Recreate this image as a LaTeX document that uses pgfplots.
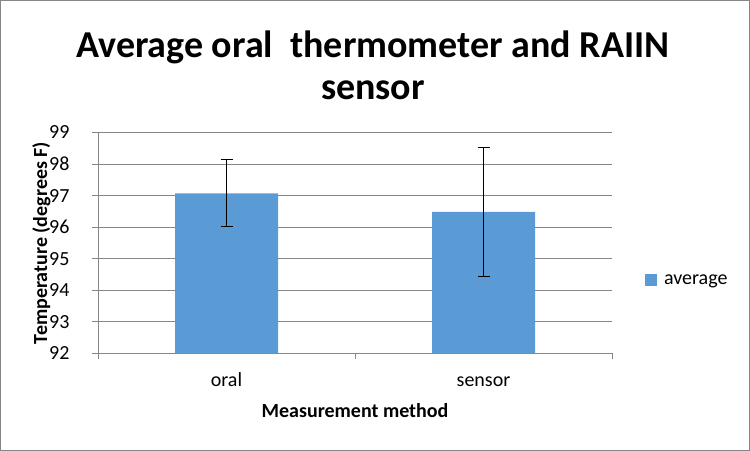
\documentclass[border=0pt]{standalone}
\usepackage{fontspec}
\setmainfont{Carlito}
\usepackage{pgfplots}
\pgfplotsset{compat=1.18}
\definecolor{barblue}{HTML}{5B9BD5}
\definecolor{gridgray}{HTML}{868686}
\begin{document}
\begin{tikzpicture}
\useasboundingbox (0bp,0bp) rectangle (750bp,451bp);
\draw[gridgray, line width=1bp] (0.5bp,0.5bp) rectangle (749.5bp,450.5bp);
\node[font=\bfseries\fontsize{38bp}{44bp}\selectfont, anchor=base, inner sep=0pt] at (373bp,393.7bp) {Average oral\ \ thermometer and RAIIN};
\node[font=\bfseries\fontsize{38bp}{44bp}\selectfont, anchor=base, inner sep=0pt] at (373bp,351.5bp) {sensor};
\begin{axis}[
  at={(98bp,97.7bp)}, anchor=south west,
  scale only axis, width=514bp, height=220.8bp,
  xmin=-0.5, xmax=1.5, ymin=92, ymax=99,
  ytick={92,93,94,95,96,97,98,99},
  xtick={0,1}, xticklabels={oral,sensor},
  minor xtick={-0.5,0.5,1.5},
  axis x line*=bottom, axis y line*=left,
  axis line style={gridgray, line width=1bp, -},
  ymajorgrids, grid style={gridgray, line width=1bp},
  tick align=outside, major tick length=6bp, minor tick length=6bp,
  tick style={gridgray, line width=1bp},
  major x tick style={draw=none},
  /pgf/number format/assume math mode=true,
  ticklabel style={font=\fontsize{20bp}{24bp}\selectfont},
  yticklabel style={anchor=east, xshift=-19bp},
  xticklabel style={anchor=base, yshift=-27bp},
  xlabel={Measurement method},
  ylabel={Temperature (degrees F)},
  label style={font=\bfseries\fontsize{20bp}{24bp}\selectfont},
  xlabel style={at={(axis description cs:0.5,0)}, anchor=base, yshift=-64bp},
  ylabel style={at={(axis description cs:0,0.5)}, anchor=center, yshift=56.5bp},
  ybar, bar width=103bp,
  legend style={at={(axis description cs:1.064,0.332)}, anchor=west, draw=none, fill=none,
    font=\fontsize{20bp}{24bp}\selectfont, inner sep=0pt,
    /tikz/every odd column/.append style={column sep=5bp}},
]
\addplot[fill=barblue, draw=none,
  legend image code/.code={\fill[barblue] (0bp,-6bp) rectangle (12bp,6bp);},
  error bars/.cd, y dir=both, y explicit,
  error bar style={black, line width=1bp},
  error mark options={black, line width=1bp, mark size=6bp, rotate=90}]
  coordinates {(0,97.07) +- (0,1.065) (1,96.48) +- (0,2.03)};
\addlegendentry{average}
\end{axis}
\end{tikzpicture}
\end{document}
